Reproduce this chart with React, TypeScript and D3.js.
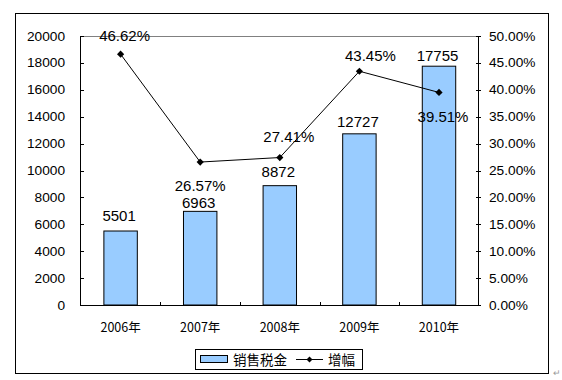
import React from "react";
import * as d3 from "d3";

const years = ["2006年", "2007年", "2008年", "2009年", "2010年"];
const salesTax = [5501, 6963, 8872, 12727, 17755];
const growth = [0.4662, 0.2657, 0.2741, 0.4345, 0.3951];
const leftTicks = [0, 2000, 4000, 6000, 8000, 10000, 12000, 14000, 16000, 18000, 20000];
const rightTicks = [0, 0.05, 0.1, 0.15, 0.2, 0.25, 0.3, 0.35, 0.4, 0.45, 0.5];
const seriesNames = ["销售税金", "增幅"];

// label placement tweaks (styling, not data)
const barLabelDy = [-16, -8.5, -14, -12, -10.5];
const pctLabelDx = [4, 0, 9, 11, 4];
const pctLabelDy = [-19, 23, -21, -16, 24];

const W = 562, H = 380;
const L = 80, R = 478, T = 36, B = 305;

export default function App() {
  const x = d3.scaleBand<string>().domain(years).range([L + 0.8, R + 0.8]).padding(0);
  const yL = d3.scaleLinear().domain([0, 20000]).range([B, T]);
  const yR = d3.scaleLinear().domain([0, 0.5]).range([B, T]);
  const bw = x.bandwidth() * 0.42;
  const cx = (d: string) => (x(d) as number) + x.bandwidth() / 2;
  const line = d3.line<number>().x((_, i) => cx(years[i])).y((v) => yR(v));
  const numFont = "Arial, 'Liberation Sans', sans-serif";
  const cjkFont = "'Noto Sans CJK SC', sans-serif";
  const diamond = (px: number, py: number, r = 3.6) =>
    `M${px},${py - r}L${px + r},${py}L${px},${py + r}L${px - r},${py}Z`;

  return (
    <svg width={W} height={H} style={{ position: "absolute", left: 0, top: 0 }}>
      <rect x={0} y={0} width={W} height={H} fill="#fff" />
      <rect x={15.5} y={13.5} width={533} height={360} fill="#fff" stroke="#000" strokeWidth={1} />
      {/* plot frame */}
      <line x1={L} x2={R} y1={T + 0.5} y2={T + 0.5} stroke="#808080" />
      {/* bars */}
      {salesTax.map((v, i) => (
        <rect key={i} x={cx(years[i]) - bw / 2} y={yL(v)} width={bw} height={B - yL(v)}
          fill="#99CCFF" stroke="#000" strokeWidth={1} />
      ))}
      {/* axes */}
      <line x1={L + 0.5} x2={L + 0.5} y1={T} y2={B} stroke="#000" />
      <line x1={R + 0.5} x2={R + 0.5} y1={T} y2={B} stroke="#000" />
      <line x1={L} x2={R + 1} y1={B + 0.5} y2={B + 0.5} stroke="#000" />
      {leftTicks.map((t) => (
        <g key={"l" + t}>
          <line x1={L} x2={L + 4} y1={Math.round(yL(t)) + 0.5} y2={Math.round(yL(t)) + 0.5} stroke="#000" />
          <text x={65} y={yL(t)} textAnchor="end" dominantBaseline="central" fontFamily={numFont} fontSize={13.7} fill="#000">{t}</text>
        </g>
      ))}
      {rightTicks.map((t) => (
        <g key={"r" + t}>
          <line x1={R - 2} x2={R + 3} y1={Math.round(yR(t)) + 0.5} y2={Math.round(yR(t)) + 0.5} stroke="#000" />
          <text x={489} y={yR(t)} textAnchor="start" dominantBaseline="central" fontFamily={numFont} fontSize={13.7} fill="#000">{(t * 100).toFixed(2) + "%"}</text>
        </g>
      ))}
      {years.map((y, i) => (
        <g key={y}>
          {i > 0 && <line x1={Math.round(x(y) as number) + 0.5} x2={Math.round(x(y) as number) + 0.5} y1={B} y2={B - 3} stroke="#000" />}
          <text x={cx(y)} y={326} textAnchor="middle" dominantBaseline="central" fontFamily={cjkFont} fontSize={12.5} fill="#000">{y}</text>
        </g>
      ))}
      {/* line series */}
      <path d={line(growth) as string} fill="none" stroke="#000" strokeWidth={1} />
      {growth.map((v, i) => (
        <path key={i} d={diamond(cx(years[i]), yR(v))} fill="#000" />
      ))}
      {/* bar labels */}
      {salesTax.map((v, i) => (
        <text key={i} x={cx(years[i]) - 1.5} y={yL(v) + barLabelDy[i]} textAnchor="middle" dominantBaseline="central"
          fontFamily={numFont} fontSize={15} fill="#000">{v}</text>
      ))}
      {/* pct labels */}
      {growth.map((v, i) => (
        <text key={i} x={cx(years[i]) + pctLabelDx[i]} y={yR(v) + pctLabelDy[i]} textAnchor="middle" dominantBaseline="central"
          fontFamily={numFont} fontSize={15} fill="#000">{(v * 100).toFixed(2) + "%"}</text>
      ))}
      {/* legend */}
      <rect x={195.5} y={349.5} width={167} height={20} fill="#fff" stroke="#000" />
      <rect x={200.5} y={355.5} width={27} height={7} fill="#99CCFF" stroke="#000" />
      <text x={233} y={359} dominantBaseline="central" fontFamily={cjkFont} fontSize={13.5} fill="#000">{seriesNames[0]}</text>
      <line x1={296} x2={323} y1={359.5} y2={359.5} stroke="#000" />
      <path d={diamond(309.5, 359.5, 3)} fill="#000" />
      <text x={328} y={359} dominantBaseline="central" fontFamily={cjkFont} fontSize={13.5} fill="#000">{seriesNames[1]}</text>
      <text x={557} y={376} textAnchor="middle" fontFamily={numFont} fontSize={9} fill="#999">↵</text>
    </svg>
  );
}
